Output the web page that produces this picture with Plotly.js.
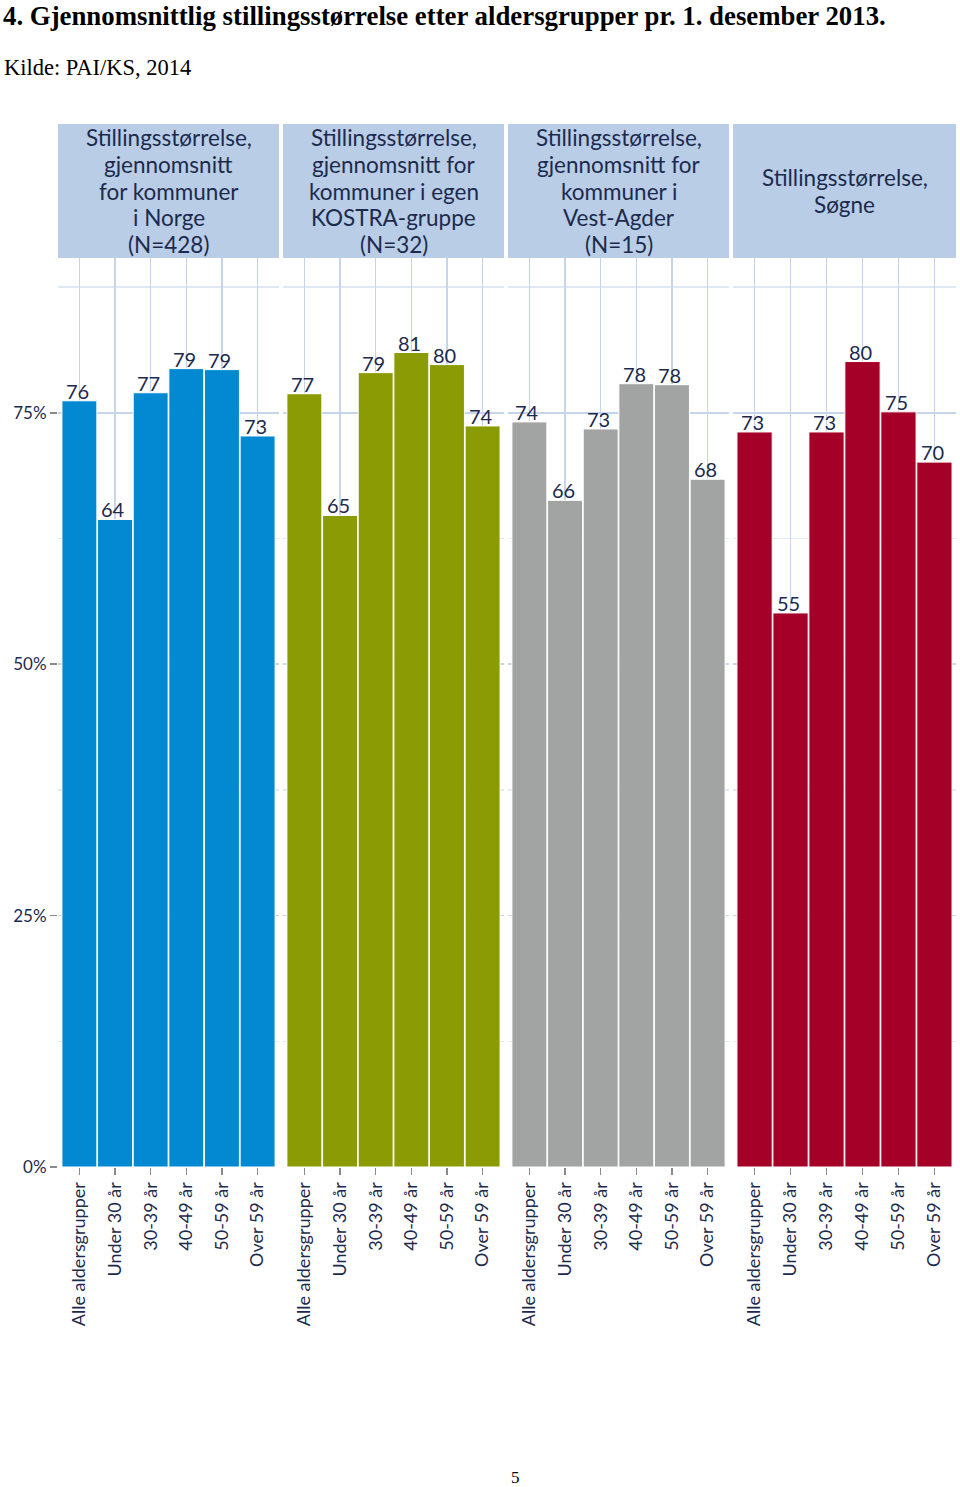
<!DOCTYPE html>
<html><head><meta charset="utf-8">
<script src="https://cdn.plot.ly/plotly-3.0.1.min.js"></script>
<style>body{margin:0;background:#fff}#chart{width:960px;height:1487px}</style>
</head><body><div id="chart"></div>
<script>
const categories = ["Alle aldersgrupper","Under 30 år","30-39 år","40-49 år","50-59 år","Over 59 år"];
const panelTitles = [
  ["Stillingsstørrelse,", "gjennomsnitt", "for kommuner", "i Norge", "(N=428)"],
  ["Stillingsstørrelse,", "gjennomsnitt for", "kommuner i egen", "KOSTRA-gruppe", "(N=32)"],
  ["Stillingsstørrelse,", "gjennomsnitt for", "kommuner i", "Vest-Agder", "(N=15)"],
  ["Stillingsstørrelse,", "Søgne"]
];
const norge = [76.2, 64.4, 77.0, 79.4, 79.3, 72.7];
const kostra = [76.9, 64.8, 79.0, 81.0, 79.8, 73.7];
const vestAgder = [74.1, 66.3, 73.4, 77.9, 77.8, 68.4];
const sogne = [73.1, 55.1, 73.1, 80.1, 75.1, 70.1];
const yTickVals = [0, 25, 50, 75];
const yTickText = ["0%", "25%", "50%", "75%"];

const series = [norge, kostra, vestAgder, sogne];
const colors = ["#0389d2", "#8b9b03", "#a2a3a3", "#a50028"];
const navy = "#1c2a4e";
const font = "Lato, 'Open Sans', sans-serif";

// layout geometry (pixels)
const W = 960, H = 1487;
const mL = 58, mR = 4, mT = 258, mB = 320;
const plotW = W - mL - mR, plotH = H - mT - mB;
const panelPx = [[0, 221], [225, 446], [450, 671], [675, 898]];
const domains = panelPx.map(p => [p[0] / plotW, p[1] / plotW]);
const pyToPaper = py => (H - mB - py) / plotH;
const pxToPaper = px => (px - mL) / plotW;

const traces = series.map((vals, i) => ({
  type: "bar",
  x: categories,
  y: vals,
  xaxis: i === 0 ? "x" : "x" + (i + 1),
  yaxis: "y",
  marker: {color: colors[i], line: {color: "#ffffff", width: 1}},
  hoverinfo: "none",
  showlegend: false
}));

const layout = {
  width: W, height: H,
  margin: {l: mL, r: mR, t: mT, b: mB},
  paper_bgcolor: "#ffffff",
  plot_bgcolor: "#ffffff",
  bargap: 0.02,
  showlegend: false,
  yaxis: {
    range: [0, 90.4],
    tickvals: yTickVals, ticktext: yTickText,
    ticks: "outside", ticklen: 7, tickcolor: "#8a8a8a", tickwidth: 1.5,
    tickfont: {family: font, size: 17, color: navy},
    showgrid: true, gridcolor: "#c6d5e9", gridwidth: 1.5,
    minor: {tickvals: [12.5, 37.5, 62.5, 87.5], showgrid: true, gridcolor: "#e0e8f3", gridwidth: 1.5, ticks: ""},
    zeroline: false, showline: false,
    anchor: "x", fixedrange: true
  },
  shapes: [],
  annotations: []
};

for (let i = 0; i < 4; i++) {
  const key = i === 0 ? "xaxis" : "xaxis" + (i + 1);
  const xref = i === 0 ? "x" : "x" + (i + 1);
  layout[key] = {
    domain: domains[i],
    anchor: "y",
    range: [-0.6, 5.6],
    type: "category",
    tickangle: -90,
    ticks: "outside", ticklen: 7, tickcolor: "#8a8a8a", tickwidth: 1.5,
    tickfont: {family: font, size: 18, color: navy},
    showgrid: true, gridcolor: "#c6d5e9", gridwidth: 1.5,
    showline: false, zeroline: false, fixedrange: true
  };
  // strip
  layout.shapes.push({
    type: "rect", xref: "paper", yref: "paper",
    x0: domains[i][0], x1: domains[i][1],
    y0: pyToPaper(258), y1: pyToPaper(124),
    fillcolor: "#b9cde6", line: {width: 0}, layer: "above"
  });
  const lines = panelTitles[i];
  const lh = 26.5, cy = 191;
  lines.forEach((ln, j) => {
    layout.annotations.push({
      xref: "paper", yref: "paper",
      x: (domains[i][0] + domains[i][1]) / 2,
      y: pyToPaper(cy + (j - (lines.length - 1) / 2) * lh),
      xanchor: "center", yanchor: "middle",
      text: ln, showarrow: false, align: "center",
      font: {family: font, size: 22.5, color: navy}
    });
  });
  // value labels
  series[i].forEach((v, j) => {
    layout.annotations.push({
      xref: xref, yref: "y", x: categories[j], y: v,
      xanchor: "center", yanchor: "bottom", yshift: -4, xshift: -2,
      text: String(Math.round(v)), showarrow: false,
      font: {family: font, size: 20, color: navy}
    });
  });
}

layout.annotations.push({
  xref: "paper", yref: "paper", x: pxToPaper(2), y: pyToPaper(0),
  xanchor: "left", yanchor: "top", showarrow: false, borderpad: 0,
  text: "<b>4. Gjennomsnittlig stillingsstørrelse etter aldersgrupper pr. 1. desember 2013.</b>",
  font: {family: "'Liberation Serif', 'Times New Roman', serif", size: 26.8, color: "#000"}
});
layout.annotations.push({
  xref: "paper", yref: "paper", x: pxToPaper(2), y: pyToPaper(53),
  xanchor: "left", yanchor: "top", showarrow: false,
  text: "Kilde: PAI/KS, 2014",
  font: {family: "'Liberation Serif', 'Times New Roman', serif", size: 22.5, color: "#000"}
});
layout.annotations.push({
  xref: "paper", yref: "paper", x: pxToPaper(515), y: pyToPaper(1477),
  xanchor: "center", yanchor: "middle", showarrow: false,
  text: "5",
  font: {family: "'Liberation Serif', 'Times New Roman', serif", size: 17, color: "#000"}
});

Plotly.newPlot("chart", traces, layout, {staticPlot: true, displayModeBar: false});
</script>
</body></html>
